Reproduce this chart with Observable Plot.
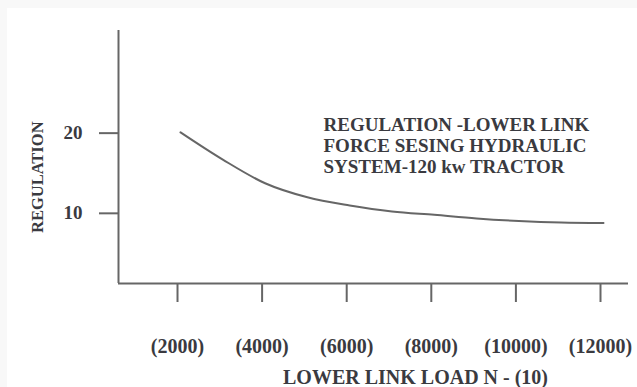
<!DOCTYPE html>
<html>
<head>
<meta charset="utf-8">
<script src="https://cdn.jsdelivr.net/npm/d3@7"></script>
<script src="https://cdn.jsdelivr.net/npm/@observablehq/plot@0.6"></script>
<style>
  html, body { margin: 0; padding: 0; background: #f8f8f8; }
  #chart { position: absolute; left: 7px; top: 8px; width: 630px; height: 379px; background: #fff; }
  #chart svg { display: block; }
</style>
</head>
<body>
<div id="chart"></div>
<script>
// Lower link load (N x 10) and the matching regulation value
const loads = [2000, 3000, 4000, 5000, 6000, 7000, 8000, 9000, 10000, 11000, 12000];
const regulation = [20.1, 16.7, 13.75, 12.0, 10.98, 10.23, 9.81, 9.37, 9.05, 8.85, 8.78];

// Axis ticks and their labels
const xTicks = [2000, 4000, 6000, 8000, 10000, 12000];
const xTickLabels = ["(2000)", "(4000)", "(6000)", "(8000)", "(10000)", "(12000)"];
const yTicks = [10, 20];

const xTitle = "LOWER LINK LOAD N - (10)";
const yTitle = "REGULATION";
const noteLines = ["REGULATION -LOWER LINK", "FORCE SESING HYDRAULIC", "SYSTEM-120 kw TRACTOR"];

const xDomain = [534, 12591];
const yDomain = [1.25, 32.8];

const points = loads.map((load, i) => ({load, value: regulation[i]}));

const axisGray = "#666";
const ink = "#3a3a40";

const chart = Plot.plot({
  width: 630,
  height: 379,
  marginLeft: 111,
  marginRight: 9,
  marginTop: 22,
  marginBottom: 104,
  x: {domain: xDomain},
  y: {domain: yDomain},
  style: {fontFamily: "'Liberation Serif', 'Times New Roman', serif", fontSize: "20px", fontWeight: "bold", color: ink, background: "white", overflow: "visible"},
  marks: [
    // axis lines
    Plot.ruleY([yDomain[0]], {stroke: axisGray, strokeWidth: 2}),
    Plot.ruleX([xDomain[0]], {stroke: axisGray, strokeWidth: 2}),
    Plot.axisX(xTicks, {
      tickSize: 19, tickPadding: 36, stroke: axisGray, strokeWidth: 2,
      fill: ink, dx: -3, label: null,
      tickFormat: d => xTickLabels[xTicks.indexOf(d)]
    }),
    Plot.axisY(yTicks, {
      tickSize: 19, tickPadding: 17, stroke: axisGray, strokeWidth: 2,
      fill: ink, label: null, fontSize: 19
    }),
    // regulation curve
    Plot.line(points, {x: "load", y: "value", stroke: "#666", strokeWidth: 2, curve: "monotone-x"}),
    // titles and note
    Plot.text([yTitle], {frameAnchor: "left", rotate: -90, dx: -81, dy: 76, fontSize: 16.5, fill: ink}),
    Plot.text([xTitle], {frameAnchor: "bottom", dx: 42, dy: 94, lineAnchor: "middle", fill: ink}),
    Plot.text([noteLines.join("\n")], {frameAnchor: "top-left", textAnchor: "start", lineAnchor: "top", dx: 205, dy: 86, lineHeight: 1.1, fontSize: 19, fill: ink})
  ]
});

document.getElementById("chart").append(chart);
</script>
</body>
</html>
